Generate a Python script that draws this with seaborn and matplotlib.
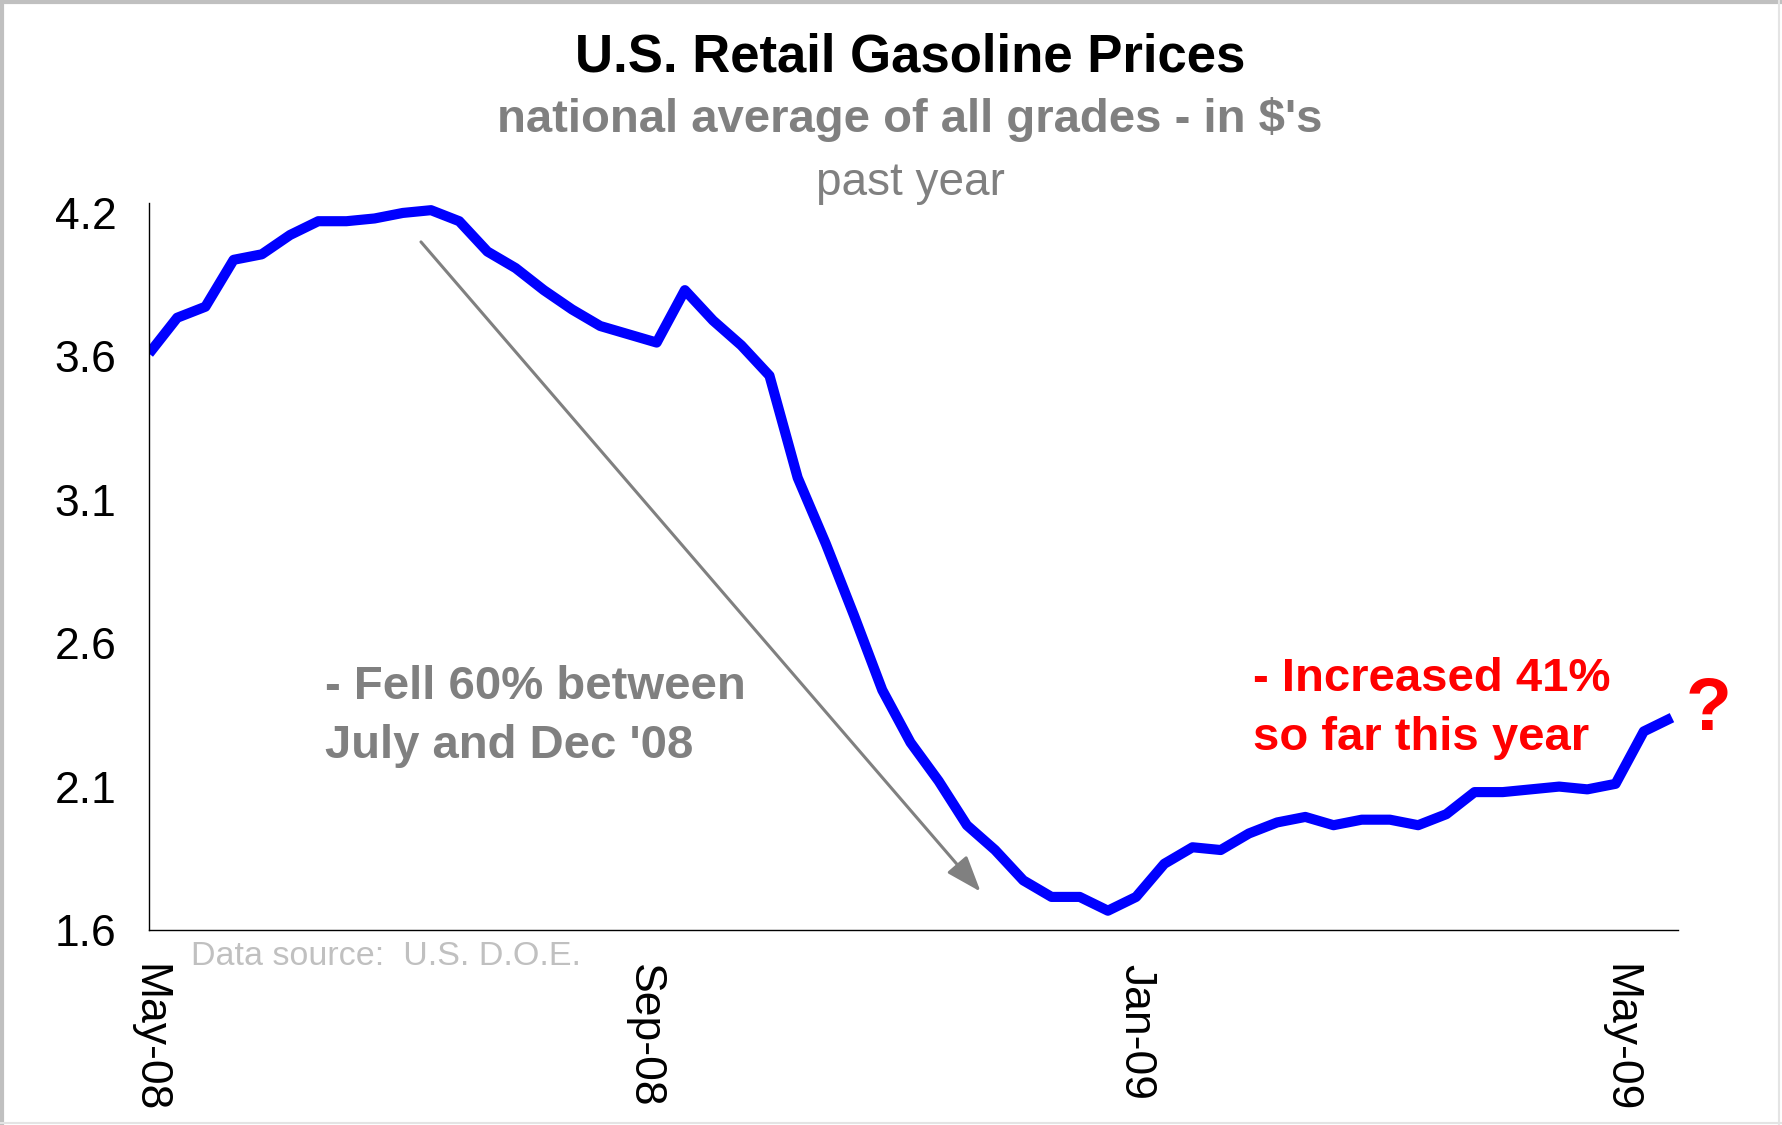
import matplotlib
matplotlib.use("Agg")
import matplotlib.pyplot as plt
import matplotlib.dates as mdates
from matplotlib.lines import Line2D
import seaborn as sns
import pandas as pd
import numpy as np

# weekly national average, all grades ($/gal)
first_week = "2008-05-05"
prices = [3.69, 3.82, 3.86, 4.03, 4.05, 4.12, 4.17, 4.17, 4.18, 4.20,
          4.21, 4.17, 4.06, 4.00, 3.92, 3.85, 3.79, 3.76, 3.73, 3.92,
          3.81, 3.72, 3.61, 3.24, 3.00, 2.74, 2.47, 2.28, 2.14, 1.98,
          1.89, 1.78, 1.72, 1.72, 1.67, 1.72, 1.84, 1.90, 1.89, 1.95,
          1.99, 2.01, 1.98, 2.00, 2.00, 1.98, 2.02, 2.10, 2.10, 2.11,
          2.12, 2.11, 2.13, 2.32, 2.37]
weeks = pd.date_range(first_week, periods=len(prices), freq="7D")

xtick_dates = ["2008-05-05", "2008-09-05", "2009-01-05", "2009-05-05"]
xtick_labels = ["May-08", "Sep-08", "Jan-09", "May-09"]
ytick_values = [1.6, 2.12, 2.64, 3.16, 3.68, 4.2]
ytick_labels = ["1.6", "2.1", "2.6", "3.1", "3.6", "4.2"]

sns.set_style("white")
plt.rcParams["font.family"] = ["Liberation Sans", "DejaVu Sans"]

fig = plt.figure(figsize=(17.83, 11.25), dpi=100)
ax = fig.add_axes([0.08357, 0.17333, 0.85754, 0.64622])

sns.lineplot(x=weeks, y=prices, ax=ax, color="#0000ff", linewidth=7.3,
             solid_joinstyle="round", solid_capstyle="butt")

t0 = pd.Timestamp(first_week)
ax.set_xlim(mdates.date2num(t0), mdates.date2num(t0 + pd.Timedelta(days=379.5)))
ax.set_ylim(1.6, 4.236)
ax.set_xticks([mdates.date2num(pd.Timestamp(d)) for d in xtick_dates])
ax.set_xticklabels(xtick_labels)
ax.set_yticks(ytick_values)
ax.set_yticklabels(ytick_labels)
ax.set_xlabel("")
ax.set_ylabel("")

for s in ["top", "right"]:
    ax.spines[s].set_visible(False)
for s in ["left", "bottom"]:
    ax.spines[s].set_color("black")
    ax.spines[s].set_linewidth(1.0)

ax.tick_params(axis="both", which="major", direction="out", length=9.4,
               width=1.0, color="#404040", labelsize=32, labelcolor="black")
ax.tick_params(axis="x", labelrotation=270, pad=15)
ax.tick_params(axis="y", pad=14)

# arrow for the decline
ax.annotate("", xy=(mdates.date2num(t0 + pd.Timedelta(days=206.4)), 1.739),
            xytext=(mdates.date2num(t0 + pd.Timedelta(days=67.5)), 4.095),
            arrowprops=dict(arrowstyle="-|>,head_length=2.2,head_width=0.8",
                            mutation_scale=10, color="#808080", lw=2.2,
                            shrinkA=0, shrinkB=0))

# titles
cx = 0.5104
fig.text(cx, 0.936, "U.S. Retail Gasoline Prices", ha="center", va="baseline",
         fontsize=38, fontweight="bold", color="black")
fig.text(cx, 0.8827, "national average of all grades - in $'s", ha="center",
         va="baseline", fontsize=34, fontweight="bold", color="#808080")
fig.text(cx, 0.8267, "past year", ha="center", va="baseline", fontsize=33,
         color="#808080")

# annotations (baseline given for the last line)
fig.text(0.1823, 0.3262, "- Fell 60% between\nJuly and Dec '08", ha="left",
         va="baseline", fontsize=34, fontweight="bold", color="#808080",
         linespacing=1.45)
fig.text(0.7028, 0.3333, "- Increased 41%\nso far this year", ha="left",
         va="baseline", fontsize=34, fontweight="bold", color="#ff0000",
         linespacing=1.45)
fig.text(0.958, 0.3511, "?", ha="center", va="baseline", fontsize=54,
         fontweight="bold", color="#ff0000")
fig.text(0.1071, 0.1422, "Data source:  U.S. D.O.E.", ha="left", va="baseline",
         fontsize=24.5, color="#c0c0c0")

# outer frame of the slide
fig.add_artist(Line2D([0, 1], [0.9985, 0.9985], transform=fig.transFigure,
                      color="#c0c0c0", lw=3))
fig.add_artist(Line2D([0.0012, 0.0012], [0, 1], transform=fig.transFigure,
                      color="#c0c0c0", lw=3))
fig.add_artist(Line2D([0.9975, 0.9975], [0, 1], transform=fig.transFigure,
                      color="#e4e4e4", lw=1.5))
fig.add_artist(Line2D([0, 1], [0.0015, 0.0015], transform=fig.transFigure,
                      color="#e4e4e4", lw=1.5))

fig.savefig("out.png", dpi=100, facecolor="white")
